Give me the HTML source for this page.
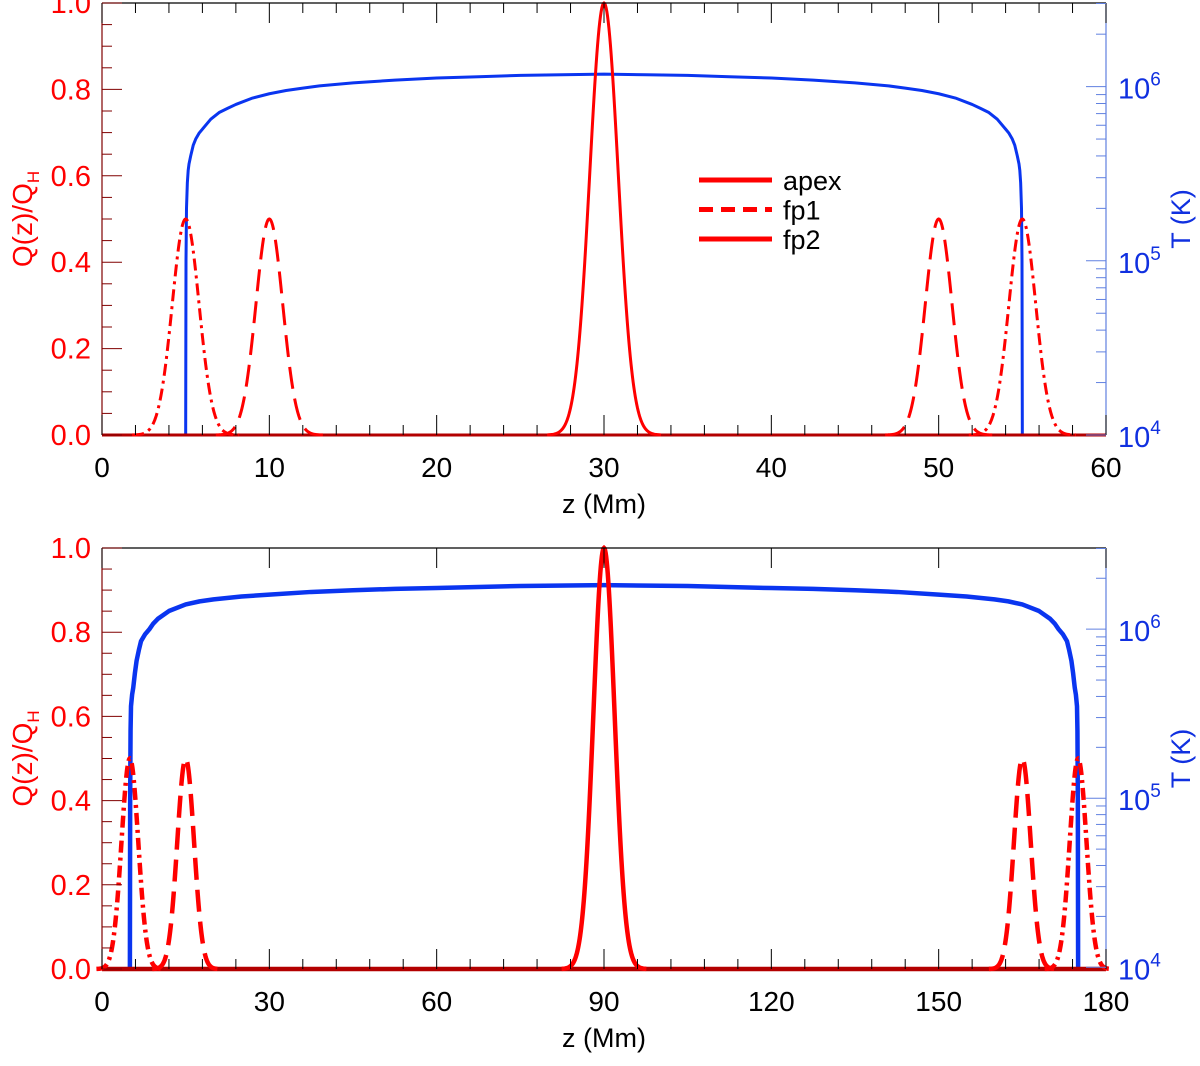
<!DOCTYPE html>
<html><head><meta charset="utf-8"><style>
html,body{margin:0;padding:0;background:#fff;}
svg{display:block;font-family:"Liberation Sans",sans-serif;}
</style></head><body>
<svg id="chart" width="1200" height="1066" viewBox="0 0 1200 1066"></svg>
<script>
// ---------- data ----------
const topHeatCenters = [30, 10, 50, 5, 55];
const topHeatAmps = [1.0, 0.5, 0.5, 0.5, 0.5];
const topHeatSigmas = [0.85, 0.8, 0.8, 0.8, 0.8];
const topHeatStyles = ['apex', 'fp1', 'fp1', 'fp2', 'fp2'];
const topTz = [5, 5.02, 5.05, 5.1, 5.15, 5.2, 5.3, 5.45, 5.6, 5.8, 6, 6.5, 7, 7.5, 8, 9, 10, 11, 12, 13, 15, 17.5, 20, 22.5, 25, 27.5, 30,
  32.5, 35, 37.5, 40, 42.5, 45, 47, 48, 49, 50, 51, 52, 52.5, 53, 53.5, 54, 54.2, 54.4, 54.55, 54.7, 54.8, 54.85, 54.9, 54.95, 54.98, 55];
const topTval = [1e4, 1e5, 2e5, 2.8e5, 3.3e5, 3.6e5, 4e5, 4.6e5, 5e5, 5.4e5, 5.7e5, 6.5e5, 7.1e5, 7.5e5, 7.9e5, 8.6e5, 9.1e5, 9.5e5, 9.8e5, 1.01e6, 1.05e6, 1.09e6, 1.12e6, 1.14e6, 1.16e6, 1.17e6, 1.18e6,
  1.17e6, 1.16e6, 1.14e6, 1.12e6, 1.09e6, 1.05e6, 1.01e6, 9.8e5, 9.5e5, 9.1e5, 8.6e5, 7.9e5, 7.5e5, 7.1e5, 6.5e5, 5.7e5, 5.4e5, 5e5, 4.6e5, 4e5, 3.6e5, 3.3e5, 2.8e5, 2e5, 1e5, 1e4];
const topXTicks = [0, 10, 20, 30, 40, 50, 60];
const botHeatCenters = [90, 15, 165, 5, 175];
const botHeatAmps = [1.0, 0.5, 0.5, 0.5, 0.5];
const botHeatSigmas = [1.9, 1.5, 1.5, 1.5, 1.5];
const botHeatStyles = ['apex', 'fp1', 'fp1', 'fp2', 'fp2'];
const botTz = [5, 5.05, 5.12, 5.2, 5.4, 5.6, 5.9, 6.2, 6.6, 7, 7.7, 8.5, 9.2, 10, 12, 15, 17.5, 20, 25, 30, 37.5, 45, 52.5, 60, 75, 90,
  105, 120, 127.5, 135, 142.5, 150, 155, 160, 162.5, 165, 168, 170, 170.8, 171.5, 172.3, 173, 173.4, 173.8, 174.1, 174.4, 174.6, 174.8, 174.88, 174.95, 175];
const botTval = [1e4, 1e5, 2.5e5, 3.5e5, 4.1e5, 4.5e5, 5.5e5, 6.5e5, 7.5e5, 8.5e5, 9.3e5, 1.0e6, 1.08e6, 1.15e6, 1.28e6, 1.4e6, 1.46e6, 1.5e6, 1.56e6, 1.6e6, 1.66e6, 1.7e6, 1.73e6, 1.75e6, 1.8e6, 1.82e6,
  1.8e6, 1.75e6, 1.73e6, 1.7e6, 1.66e6, 1.6e6, 1.56e6, 1.5e6, 1.46e6, 1.4e6, 1.28e6, 1.15e6, 1.08e6, 1.0e6, 9.3e5, 8.5e5, 7.5e5, 6.5e5, 5.5e5, 4.5e5, 4.1e5, 3.5e5, 2.5e5, 1e5, 1e4];
const botXTicks = [0, 30, 60, 90, 120, 150, 180];
const yTicks = [0.0, 0.2, 0.4, 0.6, 0.8, 1.0];
const yTickLabels = ['0.0', '0.2', '0.4', '0.6', '0.8', '1.0'];
const legendLabels = ['apex', 'fp1', 'fp2'];

// ---------- drawing ----------
const NS = 'http://www.w3.org/2000/svg';
const svg = document.getElementById('chart');
function mk(tag, attrs, parent) {
  const e = document.createElementNS(NS, tag);
  for (const k in attrs) e.setAttribute(k, attrs[k]);
  (parent || svg).appendChild(e);
  return e;
}
const dashMap = {apex: 'none', fp1: '22,10', fp2: '12,5,3,5'};

function panel(p) {
  const g = mk('g', {});
  
  
  const X = z => p.x0 + (z - p.xmin) / (p.xmax - p.xmin) * (p.x1 - p.x0);
  const Y = v => p.yb - v * (p.yb - p.yt);
  const YT = t => p.yb - (Math.log10(t) - p.lmin) / (p.lmax - p.lmin) * (p.yb - p.yt);

  let d = '';
  p.tz.forEach((z, i) => { d += (i ? 'L' : 'M') + X(z).toFixed(2) + ',' + YT(p.tv[i]).toFixed(2); });
  const tl = mk('path', {d: d, fill: 'none', stroke: '#0a35f0', 'stroke-width': p.lw, 'stroke-linejoin': 'round'}, g);
  
  

  const bl = mk('line', {x1: p.x0, x2: p.x1, y1: p.yb, y2: p.yb, stroke: '#b30000', 'stroke-width': p.lw}, g);
  
  

  p.hc.forEach((c, i) => {
    let dd = '';
    const s = p.hs[i], a = p.ha[i];
    const n = 160;
    for (let k = 0; k <= n; k++) {
      const z = c - 4 * s + 8 * s * k / n;
      const v = a * Math.exp(-0.5 * ((z - c) / s) ** 2);
      dd += (k ? 'L' : 'M') + X(z).toFixed(2) + ',' + Y(v).toFixed(2);
    }
    const pa = mk('path', {d: dd, fill: 'none', stroke: '#ff0000', 'stroke-width': p.lw}, g);
    if (dashMap[p.hst[i]] !== 'none') pa.setAttribute('stroke-dasharray', dashMap[p.hst[i]]);
    
    
  });

  mk('line', {x1: p.x0, x2: p.x1, y1: p.yt, y2: p.yt, stroke: '#000', 'stroke-width': 1.2}, g);
  mk('line', {x1: p.x0, x2: p.x0, y1: p.yt, y2: p.yb, stroke: '#800000', 'stroke-width': 1.2}, g);
  mk('line', {x1: p.x1, x2: p.x1, y1: p.yt, y2: p.yb, stroke: '#6080e0', 'stroke-width': 1.2}, g);

  const step = p.xticks[1] - p.xticks[0];
  for (let z = p.xmin; z <= p.xmax + 1e-6; z += p.minor) {
    const major = Math.abs(z / step - Math.round(z / step)) < 1e-6;
    const L = major ? 20 : 10;
    mk('line', {x1: X(z), x2: X(z), y1: p.yb, y2: p.yb - L, stroke: '#000', 'stroke-width': 1}, g);
    if (major || p.topMinor) mk('line', {x1: X(z), x2: X(z), y1: p.yt, y2: p.yt + L, stroke: '#000', 'stroke-width': 1}, g);
  }
  p.xticks.forEach(z => {
    const t = mk('text', {x: X(z), y: p.yb + 42, 'text-anchor': 'middle', 'font-size': 28, fill: '#000'}, g);
    t.textContent = z;
    
    
  });
  const xt = mk('text', {x: (p.x0 + p.x1) / 2, y: p.yb + 78, 'text-anchor': 'middle', 'font-size': 27, fill: '#000'}, g);
  xt.textContent = 'z  (Mm)';
  
  

  for (let k = 0; k <= 20; k++) {
    const v = k * 0.05;
    const major = k % 4 === 0;
    mk('line', {x1: p.x0, x2: p.x0 + (major ? 20 : 10), y1: Y(v), y2: Y(v), stroke: '#800000', 'stroke-width': 1}, g);
  }
  yTicks.forEach((v, i) => {
    const t = mk('text', {x: p.x0 - 11, y: Y(v) + 10, 'text-anchor': 'end', 'font-size': 29, fill: '#ff0000'}, g);
    t.textContent = yTickLabels[i];
    
    
  });
  const yc = (p.yt + p.yb) / 2;
  const yt = mk('text', {x: 0, y: 0, 'text-anchor': 'middle', 'font-size': 28, fill: '#ff0000', transform: `translate(32,${yc}) rotate(-90)`}, g);
  yt.innerHTML = 'Q(z)/Q<tspan font-size="17" dy="7">H</tspan>';
  
  

  for (let dec = 4; dec <= 6; dec++) {
    for (let m = 1; m <= 9; m++) {
      const t = m * Math.pow(10, dec);
      const lg = Math.log10(t);
      if (lg < p.lmin - 1e-6 || lg > p.lmax) continue;
      mk('line', {x1: p.x1, x2: p.x1 - (m === 1 ? 20 : 10), y1: YT(t), y2: YT(t), stroke: '#6080e0', 'stroke-width': 1}, g);
    }
    const tl2 = mk('text', {x: p.x1 + 12, y: YT(Math.pow(10, dec)) + 12, 'font-size': 29, fill: '#1030e0'}, g);
    tl2.innerHTML = '10<tspan font-size="19" dy="-13">' + dec + '</tspan>';
    
    
  }
  const rt = mk('text', {x: 0, y: 0, 'text-anchor': 'middle', 'font-size': 27, fill: '#1030e0', transform: `translate(1190,${yc}) rotate(-90)`}, g);
  rt.textContent = 'T  (K)';
  
  
}

panel({name: 'top-panel', x0: 102, x1: 1106, yt: 3, yb: 435, xmin: 0, xmax: 60, minor: 2, topMinor: true,
  lmin: 4, lmax: 6.48, lw: 3, xticks: topXTicks, tz: topTz, tv: topTval,
  hc: topHeatCenters, ha: topHeatAmps, hs: topHeatSigmas, hst: topHeatStyles});
panel({name: 'bottom-panel', x0: 102, x1: 1106, yt: 548, yb: 969, xmin: 0, xmax: 180, minor: 6, topMinor: false,
  lmin: 3.99, lmax: 6.48, lw: 4.5, xticks: botXTicks, tz: botTz, tv: botTval,
  hc: botHeatCenters, ha: botHeatAmps, hs: botHeatSigmas, hst: botHeatStyles});

const lg = mk('g', {});


const legStyles = ['apex', 'fp1', 'apex'];
legendLabels.forEach((lab, i) => {
  const y = 180 + i * 29.5;
  const ln = mk('line', {x1: 699, x2: 772, y1: y, y2: y, stroke: '#ff0000', 'stroke-width': 5}, lg);
  if (legStyles[i] === 'fp1') ln.setAttribute('stroke-dasharray', '14,8');
  
  
  const t = mk('text', {x: 783, y: y + 10, 'font-size': 27, fill: '#000'}, lg);
  t.textContent = lab;
  
  
});
</script>
</body></html>
